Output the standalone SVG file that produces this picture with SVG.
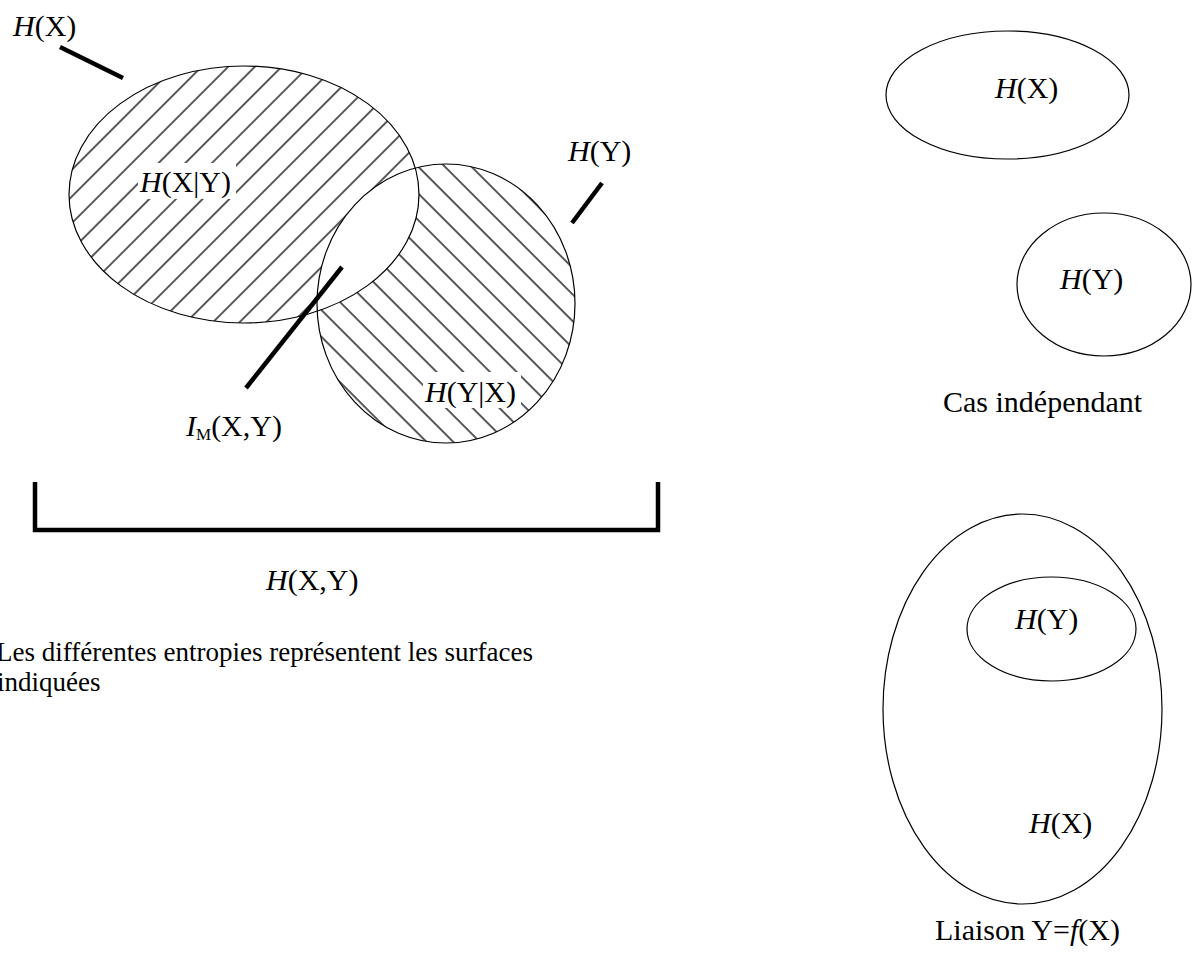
<svg xmlns="http://www.w3.org/2000/svg" width="1192" height="967" viewBox="0 0 1192 967">
<style>
  .t { font-family: "Liberation Serif", "Times New Roman", serif; font-size: 30px; fill: #000; }
  .cap { font-size: 27px; }
  .i { font-style: italic; }
  .outline { fill: none; stroke: #000; stroke-width: 1.2; }
  .lead { stroke: #000; stroke-width: 4.5; fill: none; }
</style>
<defs>
  <pattern id="hatchX" patternUnits="userSpaceOnUse" width="18.87" height="18.87" patternTransform="rotate(45)">
    <line x1="1" y1="-1" x2="1" y2="20" stroke="#000" stroke-width="1.3"/>
  </pattern>
  <pattern id="hatchY" patternUnits="userSpaceOnUse" width="18.87" height="18.87" patternTransform="rotate(-45)">
    <line x1="8" y1="-1" x2="8" y2="20" stroke="#000" stroke-width="1.3"/>
  </pattern>
  <clipPath id="clipX"><ellipse cx="244" cy="194.5" rx="175" ry="128.5"/></clipPath>
  <clipPath id="clipY"><ellipse cx="446" cy="303.5" rx="129" ry="139.5"/></clipPath>
</defs>

<g id="venn">
  <g id="setX">
    <ellipse cx="244" cy="194.5" rx="175" ry="128.5" fill="url(#hatchX)"/>
  </g>
  <g id="setY">
    <ellipse cx="446" cy="303.5" rx="129" ry="139.5" fill="url(#hatchY)"/>
  </g>
  <g id="intersection">
    <ellipse cx="244" cy="194.5" rx="175" ry="128.5" fill="#fff" clip-path="url(#clipY)"/>
  </g>
  <ellipse class="outline" cx="244" cy="194.5" rx="175" ry="128.5"/>
  <ellipse class="outline" cx="446" cy="303.5" rx="129" ry="139.5"/>
  <g id="label-HXgivenY">
    <rect x="138" y="163" width="98" height="36" fill="#fff"/>
    <text class="t" x="140" y="192"><tspan class="i">H</tspan>(X|Y)</text>
  </g>
  <g id="label-HYgivenX">
    <rect x="423" y="372" width="98" height="36" fill="#fff"/>
    <text class="t" x="425" y="402"><tspan class="i">H</tspan>(Y|X)</text>
  </g>
</g>

<g id="connectors">
  <line class="lead" x1="60" y1="47" x2="123" y2="78"/>
  <line class="lead" x1="602" y1="183" x2="572" y2="223"/>
  <line class="lead" x1="342" y1="267" x2="246" y2="388"/>
  <polyline class="lead" points="35,482 35,530 658,530 658,482"/>
</g>

<g id="label-HX">
  <text class="t" x="13" y="36"><tspan class="i">H</tspan>(X)</text>
</g>
<g id="label-HY">
  <text class="t" x="568" y="161"><tspan class="i">H</tspan>(Y)</text>
</g>
<g id="label-IM">
  <text class="t" x="186" y="436"><tspan class="i">I</tspan><tspan font-size="17" dy="4">M</tspan><tspan dy="-4">(X,Y)</tspan></text>
</g>
<g id="label-HXY">
  <text class="t" x="266" y="590"><tspan class="i">H</tspan>(X,Y)</text>
</g>
<g id="caption">
  <text class="t cap" x="-4" y="661">Les différentes entropies représentent les surfaces</text>
  <text class="t cap" x="-3" y="691">indiquées</text>
</g>

<g id="independent">
  <g id="ind-X">
    <ellipse class="outline" cx="1007.5" cy="95" rx="121.5" ry="64"/>
    <text class="t" x="995" y="98"><tspan class="i">H</tspan>(X)</text>
  </g>
  <g id="ind-Y">
    <ellipse class="outline" cx="1104" cy="284.5" rx="87" ry="71.5"/>
    <text class="t" x="1060" y="289"><tspan class="i">H</tspan>(Y)</text>
  </g>
  <text class="t" x="943" y="412">Cas indépendant</text>
</g>

<g id="dependent">
  <g id="dep-X">
    <ellipse class="outline" cx="1022.5" cy="709" rx="139.5" ry="195"/>
    <text class="t" x="1029" y="833"><tspan class="i">H</tspan>(X)</text>
  </g>
  <g id="dep-Y">
    <ellipse class="outline" cx="1051.5" cy="629" rx="84.5" ry="52"/>
    <text class="t" x="1015" y="629"><tspan class="i">H</tspan>(Y)</text>
  </g>
  <text class="t" x="935" y="940">Liaison Y=<tspan class="i">f</tspan>(X)</text>
</g>
</svg>
